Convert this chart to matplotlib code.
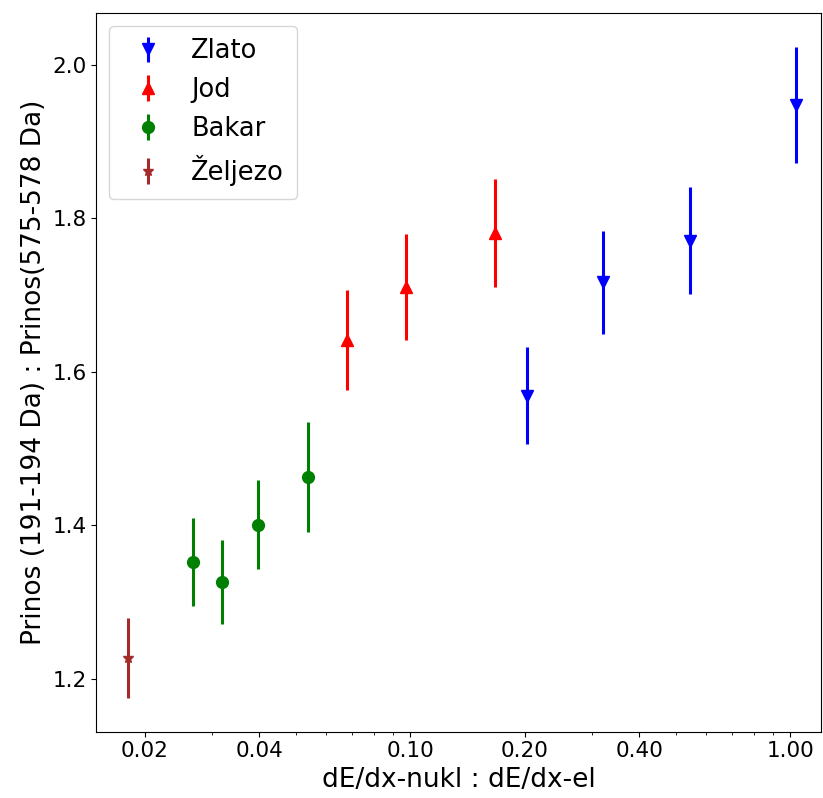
import numpy as np
import matplotlib
matplotlib.use("Agg")
import matplotlib.pyplot as plt
from matplotlib.ticker import FixedLocator, FormatStrFormatter, NullFormatter

# --------------------------------------------------
# DATA
# --------------------------------------------------
zlato_x   = [0.2024, 0.3204, 0.5453, 1.035]
zlato_y   = [1.569, 1.717, 1.771, 1.948]
zlato_err = [0.063, 0.067, 0.070, 0.076]

jod_x   = [0.0682, 0.0974, 0.1668]
jod_y   = [1.642, 1.711, 1.781]
jod_err = [0.065, 0.069, 0.070]

bakar_x   = [0.0267, 0.0320, 0.0396, 0.0539]
bakar_y   = [1.352, 1.326, 1.401, 1.463]
bakar_err = [0.057, 0.055, 0.058, 0.072]

zeljezo_x   = [0.01805]
zeljezo_y   = [1.227]
zeljezo_err = [0.052]

xticks = [0.02, 0.04, 0.10, 0.20, 0.40, 1.00]

# --------------------------------------------------
# PLOT
# --------------------------------------------------
fig, ax = plt.subplots(figsize=(8.23, 7.98), dpi=100)
fig.subplots_adjust(left=0.117, right=0.997, top=0.984, bottom=0.083)

ax.errorbar(zlato_x, zlato_y, yerr=zlato_err, fmt="v", color="blue",
            markersize=9, elinewidth=2.2, label="Zlato")
ax.errorbar(jod_x, jod_y, yerr=jod_err, fmt="^", color="red",
            markersize=9, elinewidth=2.2, label="Jod")
ax.errorbar(bakar_x, bakar_y, yerr=bakar_err, fmt="o", color="green",
            markersize=8.5, elinewidth=2.2, label="Bakar")
ax.errorbar(zeljezo_x, zeljezo_y, yerr=zeljezo_err, fmt="*", color="brown",
            markersize=8, elinewidth=2.2, label="Željezo")

ax.set_xscale("log")
ax.set_xlim(0.0149, 1.2)
ax.set_ylim(1.131, 2.068)
ax.xaxis.set_major_locator(FixedLocator(xticks))
ax.xaxis.set_major_formatter(FormatStrFormatter("%.2f"))
ax.xaxis.set_minor_formatter(NullFormatter())
ax.set_yticks([1.2, 1.4, 1.6, 1.8, 2.0])
ax.tick_params(labelsize=15.5)

ax.set_xlabel("dE/dx-nukl : dE/dx-el", fontsize=19)
ax.set_ylabel("Prinos (191-194 Da) : Prinos(575-578 Da)", fontsize=19)

ax.legend(loc="upper left", fontsize=18.5, borderpad=0.5, labelspacing=0.5,
          handlelength=2.0, handletextpad=0.7)

plt.savefig("out.png", dpi=100)
plt.close()
